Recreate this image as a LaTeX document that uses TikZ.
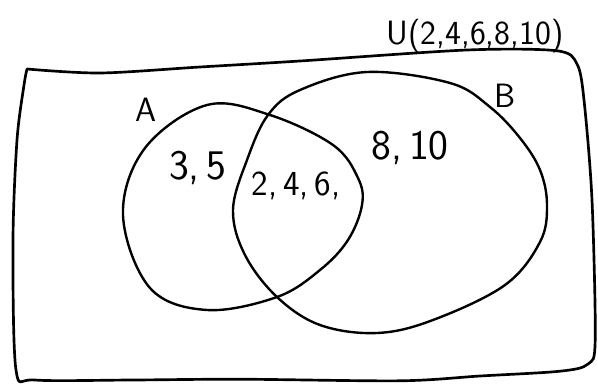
\documentclass[tikz,border=0pt]{standalone}
\usepackage{tkz-euclide}
\definecolor{InkClr}{rgb}{0,0,0}

\begin{document}
\begin{tikzpicture}[scale=1,
  setline/.style={line width=1.7pt,color=InkClr,line join=round,line cap=round},
  setlbl/.style={font=\sffamily\fontsize{24}{26}\selectfont,text=InkClr,inner sep=0pt}]
\useasboundingbox (0,0) rectangle (14.95,9.6);

% universe
\tkzDefPoints{0.675/7.875/U1,2.5/7.775/U2,5.0/7.925/U3,7.5/8.075/U4,11.675/8.35/U5,
  13.925/8.33/U6,14.425/8.0/U7,14.6/7.1/U8,14.8/4.6/U9,14.88/1.1/U10,14.7/0.5/U11,
  14.0/0.32/U12,12.0/0.2/U13,10.0/0.08/U14,6.0/0.12/U15,3.3/0.1/U16,0.875/0.1/U17,
  0.4/0.35/U18,0.325/3.6/U19,0.425/6.1/U20,0.6/7.475/U21}
% set A
\tkzDefPoints{5.175/6.975/A1,6.75/6.725/A2,8.325/5.975/A3,8.95/5.15/A4,9.05/4.475/A5,
  8.7/3.6/A6,8.0/2.85/A7,6.925/2.175/A8,5.175/1.85/A9,3.75/2.4/A10,3.075/4.225/A11,
  3.625/5.9/A12}
% set B
\tkzDefPoints{5.825/4.35/B1,6.175/5.6/B2,6.7/6.725/B3,7.5/7.35/B4,9.175/7.8/B5,
  11.25/7.525/B6,12.25/6.925/B7,13.0/6.15/B8,13.5/5.35/B9,13.675/4.475/B10,
  13.5/3.55/B11,12.625/2.475/B12,10.825/1.6/B13,9.425/1.275/B14,8.0/1.475/B15,
  6.925/2.175/B16,6.125/3.225/B17}

\draw[setline,line width=1.9pt] plot[smooth,tension=.5] coordinates {(U1) (U2) (U3) (U4) (U5)
  (U6) (U7) (U8) (U9) (U10) (U11) (U12) (U13) (U14) (U15) (U16) (U17) (U18) (U19)
  (U20) (U21) (U1)};
\draw[setline] plot[smooth cycle,tension=.6] coordinates {(A1) (A2) (A3) (A4) (A5) (A6)
  (A7) (A8) (A9) (A10) (A11) (A12)};
\draw[setline] plot[smooth cycle,tension=.6] coordinates {(B1) (B2) (B3) (B4) (B5) (B6)
  (B7) (B8) (B9) (B10) (B11) (B12) (B13) (B14) (B15) (B16) (B17)};

\node[setlbl] (lblU) at (11.875,8.7) {U(2,4,6,8,10)};
\node[setlbl] (lblA) at (3.65,6.85) {A};
\node[setlbl] (lblB) at (12.625,7.2) {B};
\node[setlbl,font=\sffamily\fontsize{30}{32}\selectfont] (onlyA) at (4.95,5.4) {3,\,5};
\node[setlbl,font=\sffamily\fontsize{25}{27}\selectfont] (both) at (7.4,4.95) {2,\,4,\,6,};
\node[setlbl,font=\sffamily\fontsize{30}{32}\selectfont] (onlyB) at (10.25,5.9) {8,\,10};

\end{tikzpicture}
\end{document}
